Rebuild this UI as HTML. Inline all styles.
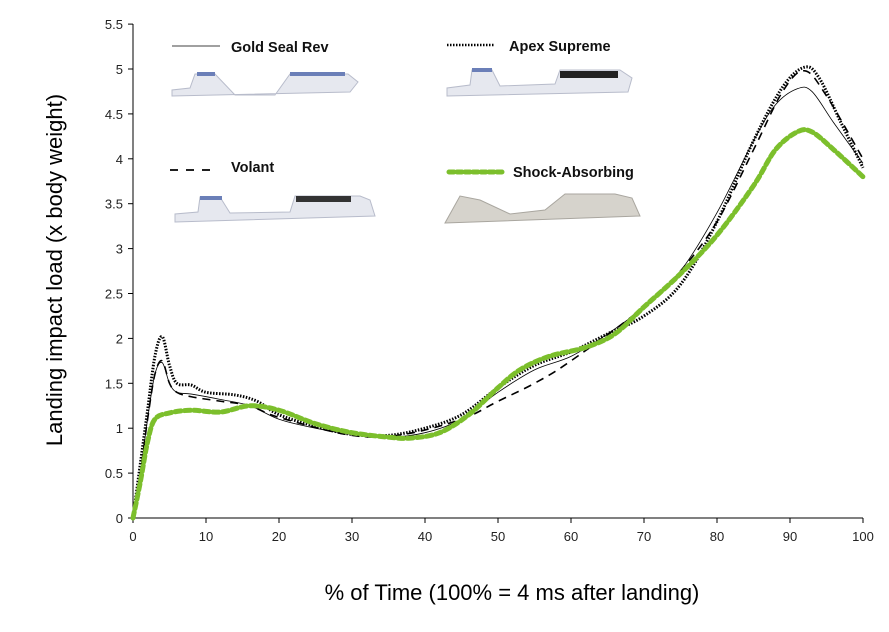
<!DOCTYPE html><html><head><style>body{margin:0;background:#fff}svg{display:block;font-family:"Liberation Sans",sans-serif}</style></head><body>
<svg id="s" width="889" height="632" viewBox="0 0 889 632">
<g stroke="#000" stroke-width="1">
<line x1="133" y1="24" x2="133" y2="518"/><line x1="133" y1="518" x2="863" y2="518"/>
</g>
<g id="ax"></g>
<text x="62" y="270" font-size="22" text-anchor="middle" transform="rotate(-90 62 270)">Landing impact load (x body weight)</text>
<text x="512" y="600" font-size="22" text-anchor="middle">% of Time (100% = 4 ms after landing)</text>
<g font-size="14.5" font-weight="bold" fill="#111">
<line x1="172" y1="46" x2="220" y2="46" stroke="#000" stroke-width="0.8"/><text x="231" y="52">Gold Seal Rev</text>
<line x1="447" y1="45" x2="494" y2="45" stroke="#000" stroke-width="2.5" stroke-dasharray="1.5,1.5"/><text x="509" y="51">Apex Supreme</text>
<line x1="170" y1="170" x2="214" y2="170" stroke="#000" stroke-width="1.8" stroke-dasharray="8,8"/><text x="231" y="172">Volant</text>
<line x1="449" y1="172" x2="502" y2="172" stroke="#7cbf2c" stroke-width="5" stroke-linecap="round" stroke-dasharray="5,3"/><text x="513" y="177">Shock-Absorbing</text>
</g>
<g fill="#e6e8ef" stroke="#b8bccb" stroke-width="1">
<path d="M172 96 L350 92 L358 82 L348 74 L340 74 L290 74 L275 95 L235 95 L215 74 L195 74 L190 88 L172 90Z"/>
<path d="M447 96 L628 92 L632 78 L620 70 L560 70 L555 84 L500 86 L492 70 L472 70 L470 85 L447 88Z"/>
<path d="M175 222 L375 216 L370 200 L360 196 L295 196 L290 212 L230 213 L220 197 L200 197 L198 212 L175 214Z"/>
<path d="M445 223 L640 216 L632 198 L615 194 L565 194 L545 210 L510 214 L480 200 L460 196 L450 214Z" fill="#d6d3cc" stroke="#a9a69f"/>
</g>
<g fill="#6b7fb8"><rect x="197" y="72" width="18" height="4"/><rect x="290" y="72" width="55" height="4"/><rect x="472" y="68" width="20" height="4"/><rect x="560" y="71" width="58" height="7" fill="#222"/><rect x="200" y="196" width="22" height="4"/><rect x="296" y="196" width="55" height="6" fill="#333"/></g>
<g id="series" fill="none"></g>
</svg>
<script>
const X=x=>133+7.3*x,Y=y=>518-89.8*y;
let ax=document.getElementById('ax'),h='';
for(let i=0;i<=10;i++){let x=X(i*10);h+=`<line x1="${x}" y1="518" x2="${x}" y2="523" stroke="#000"/><text x="${x}" y="541" font-size="13" fill="#222" text-anchor="middle">${i*10}</text>`;}
for(let i=0;i<=11;i++){let y=Y(i*0.5);h+=`<line x1="128" y1="${y}" x2="133" y2="${y}" stroke="#000"/><text x="123" y="${y+5}" font-size="13" fill="#222" text-anchor="end">${i*0.5}</text>`;}
ax.innerHTML=h;
function path(p){p=p.map(a=>[X(a[0]),Y(a[1])]);let d=`M${p[0][0]},${p[0][1]}`;for(let i=0;i<p.length-1;i++){let a=p[i-1]||p[i],b=p[i],c=p[i+1],e=p[i+2]||c;d+=`C${b[0]+(c[0]-a[0])/6},${b[1]+(c[1]-a[1])/6} ${c[0]-(e[0]-b[0])/6},${c[1]-(e[1]-b[1])/6} ${c[0]},${c[1]}`;}return d;}
const S=[
[[[0,0],[1,0.6],[2,1.2],[3,1.8],[4,2.02],[5,1.7],[6,1.5],[8,1.48],[10,1.4],[14,1.37],[17,1.3],[20,1.15],[25,1.02],[30,0.93],[35,0.92],[40,1.0],[45,1.15],[50,1.45],[55,1.7],[60,1.85],[65,2.05],[70,2.25],[75,2.6],[80,3.3],[85,4.2],[89,4.8],[92,5.02],[94,4.9],[97,4.4],[100,3.9]],'stroke="#000" stroke-width="3" stroke-dasharray="1.5,1.5"'],
[[[0,0],[1,0.5],[2,1.1],[3,1.6],[4,1.75],[5,1.5],[6,1.4],[8,1.35],[12,1.3],[16,1.25],[20,1.12],[30,0.92],[37,0.93],[45,1.1],[50,1.3],[55,1.5],[60,1.75],[70,2.35],[75,2.75],[80,3.3],[85,4.1],[89,4.75],[92,4.98],[95,4.7],[100,4.0]],'stroke="#000" stroke-width="1.6" stroke-dasharray="8,6"'],
[[[0,0],[1,0.5],[2,1.1],[3,1.6],[4,1.73],[5,1.5],[6,1.4],[8,1.38],[12,1.32],[16,1.25],[20,1.1],[25,1.0],[30,0.93],[35,0.9],[40,0.95],[45,1.1],[50,1.4],[55,1.65],[60,1.8],[65,2.05],[70,2.35],[75,2.75],[80,3.4],[85,4.2],[88,4.6],[91,4.78],[93,4.75],[96,4.4],[100,3.95]],'stroke="#000" stroke-width="0.8"'],
[[[0,0],[1,0.4],[2,0.85],[3,1.1],[5,1.17],[8,1.2],[12,1.18],[16,1.25],[20,1.2],[25,1.05],[30,0.95],[35,0.9],[38,0.89],[42,0.95],[46,1.15],[50,1.45],[53,1.65],[57,1.8],[62,1.9],[66,2.05],[70,2.35],[75,2.72],[80,3.15],[85,3.7],[88,4.1],[91,4.3],[93,4.3],[96,4.1],[100,3.8]],'stroke="#7cbf2c" stroke-width="5" stroke-linecap="round" stroke-dasharray="6,3.5"']];
document.getElementById('series').innerHTML=S.map(s=>`<path d="${path(s[0])}" ${s[1]}/>`).join('');
</script></body></html>
